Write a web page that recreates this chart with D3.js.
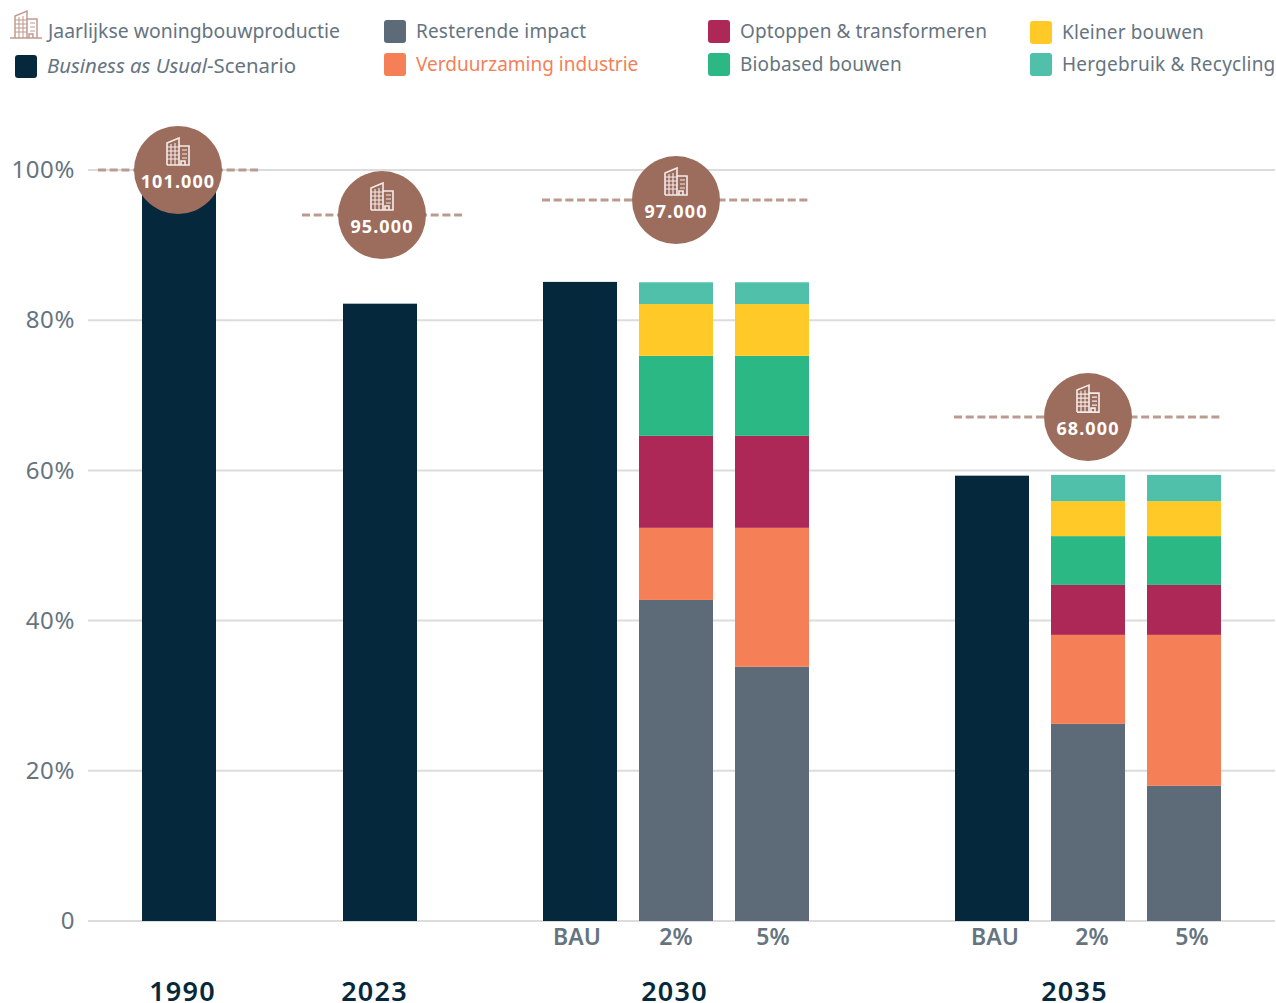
<!DOCTYPE html>
<html>
  <head>
    <meta charset='utf-8'>
    <script src='https://d3js.org/d3.v7.min.js'></script>
    <style>
      html, body { margin: 0; padding: 0; background: #fff; }
      svg { display: block; }
      text { font-family: 'Noto Sans', sans-serif; }
    </style>
  </head>
  <body>
    <div id='chart'></div>
    <script>
      // values, in % of 1990
      const barKeys = ['1990', '2023', '2030-BAU', '2030-2', '2030-5', '2035-BAU', '2035-2', '2035-5'];
      const bauValues = [100, 82.2, 85.1, 0, 0, 59.3, 0, 0];
      const resterend = [0, 0, 0, 42.75, 33.85, 0, 26.25, 18];
      const verduurzaming = [0, 0, 0, 9.6, 18.5, 0, 11.85, 20.1];
      const optoppen = [0, 0, 0, 12.25, 12.25, 0, 6.65, 6.65];
      const biobased = [0, 0, 0, 10.65, 10.65, 0, 6.5, 6.5];
      const kleiner = [0, 0, 0, 6.9, 6.9, 0, 4.65, 4.65];
      const hergebruik = [0, 0, 0, 2.9, 2.9, 0, 3.5, 3.5];

      const seriesNames = ['bau', 'resterend', 'verduurzaming', 'optoppen', 'biobased', 'kleiner', 'hergebruik'];
      const seriesValues = [bauValues, resterend, verduurzaming, optoppen, biobased, kleiner, hergebruik];
      const seriesColors = ['#05283d', '#5d6b78', '#f57f57', '#ae2857', '#2cb885', '#ffca28', '#50c0aa'];

      const yTicks = [0, 20, 40, 60, 80, 100];
      const subLabels = ['BAU', '2%', '5%', 'BAU', '2%', '5%'];
      const subKeys = ['2030-BAU', '2030-2', '2030-5', '2035-BAU', '2035-2', '2035-5'];
      const yearLabels = ['1990', '2023', '2030', '2035'];
      const productionLabels = ['101.000', '95.000', '97.000', '68.000'];
      const productionLevel = [100, 94, 96, 67.1];

      const width = 1276, height = 1003;
      const barWidth = 74;

      const svg = d3.select('#chart').append('svg')
        .attr('width', width)
        .attr('height', height);

      const y = d3.scaleLinear().domain([0, 100]).range([921, 170]);
      const x = d3.scaleOrdinal().domain(barKeys)
        .range([142, 343, 543, 639, 735, 955, 1051, 1147]);
      const yearX = d3.scaleOrdinal().domain(yearLabels).range([182.5, 374.5, 674.5, 1074.5]);
      const subX = d3.scaleOrdinal().domain(subKeys).range([577, 676, 773, 995, 1092, 1192]);
      // where each production marker sits
      const markerX = d3.scaleOrdinal().domain(productionLabels).range([178, 382, 676, 1088]);
      const dashFrom = d3.scaleOrdinal().domain(productionLabels).range([98, 302, 542, 954]);
      const dashTo = d3.scaleOrdinal().domain(productionLabels).range([259, 463, 810, 1221]);

      // grid
      const grid = svg.append('g');
      grid.selectAll('line').data(yTicks).join('line')
        .attr('x1', 88).attr('x2', 1275)
        .attr('y1', d => y(d)).attr('y2', d => y(d))
        .attr('stroke', '#dcdcdc').attr('stroke-width', 2);

      const yAxis = d3.axisLeft(y).tickValues(yTicks).tickSize(0).tickPadding(0)
        .tickFormat(d => d === 0 ? '0' : d + '%');
      const yAxisG = svg.append('g').attr('transform', 'translate(75,0)').call(yAxis);
      yAxisG.select('.domain').remove();
      yAxisG.selectAll('text')
        .attr('fill', '#66747f')
        .style('font-family', "'Noto Sans', sans-serif")
        .style('font-size', '24px')
        .style('letter-spacing', '0.6px');

      // bars
      const stacked = d3.stack().keys(seriesNames.map((n, i) => i))
        .value((row, i) => seriesValues[i][row])(barKeys.map((k, i) => i));

      svg.append('g').selectAll('g').data(stacked).join('g')
        .attr('fill', (d, i) => seriesColors[i])
        .selectAll('rect').data(d => d.filter(p => p[1] > p[0])).join('rect')
        .attr('x', d => x(barKeys[d.data]))
        .attr('width', barWidth)
        .attr('y', d => y(d[1]))
        .attr('height', d => y(d[0]) - y(d[1]));

      // labels under the bars
      svg.append('g').selectAll('text').data(subKeys).join('text')
        .attr('x', d => subX(d))
        .attr('y', 945)
        .attr('text-anchor', 'middle')
        .attr('fill', '#66747f')
        .attr('font-weight', 600)
        .attr('font-size', 23)
        .text((d, i) => subLabels[i]);

      svg.append('g').selectAll('text').data(yearLabels).join('text')
        .attr('x', d => yearX(d))
        .attr('y', 1001)
        .attr('text-anchor', 'middle')
        .attr('fill', '#05283d')
        .attr('font-weight', 600)
        .attr('font-size', 27)
        .style('letter-spacing', '1.2px')
        .text(d => d);

      // little building icon, drawn around its own centre
      function building(g, color, sw, baseFrom, baseTo) {
        const outline = 'M-12 12V-10L0 -15V12M0 -7H10V12H6V8H2V12M' + baseFrom + ' 12H' + baseTo;
        const windows = 'M-8 -9V12M-4 -10V12M-12 -6H0M-12 -2H0M-12 2H0M-12 6H0M3 -3H8M3 1H8M3 5H8';
        g.append('path').attr('fill', 'none').attr('stroke', color)
          .attr('stroke-width', sw * 0.7).attr('d', windows);
        g.append('path').attr('fill', 'none').attr('stroke', color)
          .attr('stroke-width', sw).attr('d', outline);
      }

      // production markers
      const markers = svg.append('g').selectAll('g').data(productionLabels).join('g');
      markers.append('line')
        .attr('x1', d => dashFrom(d))
        .attr('x2', d => dashTo(d))
        .attr('y1', (d, i) => y(productionLevel[i]))
        .attr('y2', (d, i) => y(productionLevel[i]))
        .attr('stroke', '#bb9a90')
        .attr('stroke-width', 3)
        .attr('stroke-dasharray', '8 3.7');
      markers.append('circle')
        .attr('cx', d => markerX(d))
        .attr('cy', (d, i) => y(productionLevel[i]))
        .attr('r', 44)
        .attr('fill', '#9c6c5c');
      markers.append('g')
        .attr('transform', (d, i) => `translate(${markerX(d) + 1},${y(productionLevel[i]) - 17})`)
        .each(function() { building(d3.select(this), '#f4ecea', 1.6, -12, 10); });
      markers.append('text')
        .attr('x', d => markerX(d))
        .attr('y', (d, i) => y(productionLevel[i]) + 18)
        .attr('text-anchor', 'middle')
        .attr('fill', '#fff')
        .attr('font-weight', 700)
        .attr('font-size', 18)
        .style('letter-spacing', '1.1px')
        .text(d => d);

      // legend
      const legendLabels = ['Resterende impact', 'Verduurzaming industrie', 'Optoppen & transformeren', 'Biobased bouwen', 'Kleiner bouwen', 'Hergebruik & Recycling'];
      const legendColors = ['#5d6b78', '#f57f57', '#ae2857', '#2cb885', '#ffca28', '#50c0aa'];
      const legendTextColors = ['#66747f', '#f57f57', '#66747f', '#66747f', '#66747f', '#66747f'];
      const legendX = [384, 384, 708, 708, 1030, 1030];
      const legendY = [31, 64, 31, 64, 32, 64];
      const legendSpacing = [0.17, 0, 0.1, 0.13, 0.15, 0.22];

      const legend = svg.append('g');
      const items = legend.selectAll('g').data(legendLabels).join('g')
        .attr('transform', (d, i) => `translate(${legendX[i]},${legendY[i]})`);
      items.append('rect')
        .attr('x', 0).attr('y', -11)
        .attr('width', 22).attr('height', 23).attr('rx', 3)
        .attr('fill', (d, i) => legendColors[i]);
      items.append('text')
        .attr('x', 32).attr('y', 7)
        .attr('font-size', 19)
        .attr('fill', (d, i) => legendTextColors[i])
        .style('letter-spacing', (d, i) => legendSpacing[i] + 'px')
        .text(d => d);

      const first = legend.append('g');
      building(first.append('g').attr('transform', 'translate(27,26)'), '#c29a8e', 1.5, -17, 15);
      first.append('text')
        .attr('x', 48).attr('y', 38)
        .attr('font-size', 19.4)
        .attr('fill', '#66747f')
        .text('Jaarlijkse woningbouwproductie');

      first.append('rect')
        .attr('x', 15).attr('y', 55)
        .attr('width', 22).attr('height', 23).attr('rx', 3)
        .attr('fill', '#05283d');
      const bauText = first.append('text')
        .attr('x', 47).attr('y', 73)
        .attr('font-size', 20.4)
        .attr('fill', '#66747f');
      bauText.append('tspan').attr('font-style', 'italic').text('Business as Usual');
      bauText.append('tspan').text('-Scenario');
    </script>
  </body>
</html>
